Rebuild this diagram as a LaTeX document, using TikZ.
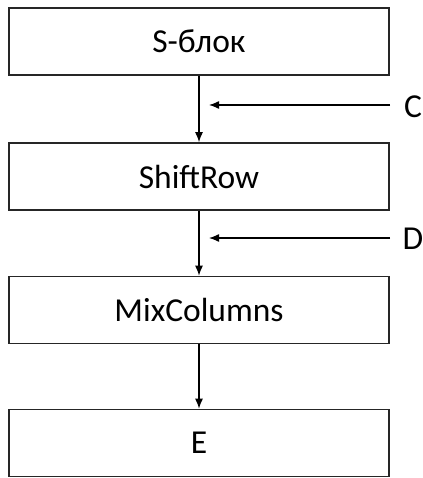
\documentclass[tikz,border=0pt]{standalone}
\usepackage{fontspec}
\setmainfont{Carlito}
\usetikzlibrary{arrows.meta}
\begin{document}
\begin{tikzpicture}[x=1pt,y=-1pt,
  blk/.style={draw=black!85, line width=1.6pt, minimum width=380pt, minimum height=67pt, inner sep=0pt, font=\fontsize{33.5}{40}\selectfont},
  lbl/.style={inner sep=0pt, font=\fontsize{33.5}{40}\selectfont},
  conn/.style={line width=1.3pt, -{Latex[length=10pt,width=8pt]}}]
\useasboundingbox (0,0) rectangle (422,478);
\node[blk] (s) at (199,41.5) {S-блок};
\node[blk] (sr) at (199,176.5) {ShiftRow};
\node[blk] (mc) at (199,310) {MixColumns};
\node[blk] (e) at (199,443) {E};
\node[lbl] (c) at (413,107) {C};
\node[lbl] (d) at (413,239) {D};
\coordinate (cs) at (390,105);
\coordinate (ce) at (209,105);
\coordinate (ds) at (390,238);
\coordinate (de) at (209,238);
\draw[conn] (s.south) -- (sr.north);
\draw[conn] (sr.south) -- (mc.north);
\draw[conn] (mc.south) -- (e.north);
\draw[conn] (cs) -- (ce);
\draw[conn] (ds) -- (de);
\end{tikzpicture}
\end{document}
